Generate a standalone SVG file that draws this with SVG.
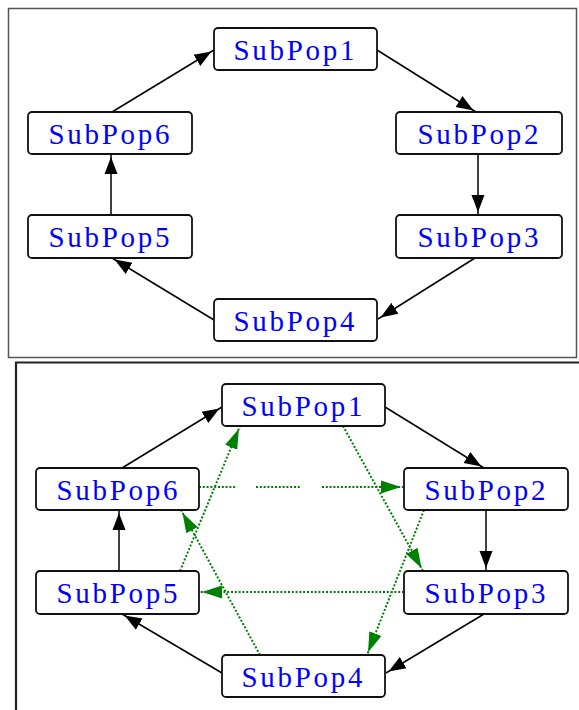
<svg xmlns="http://www.w3.org/2000/svg" width="579" height="710" viewBox="0 0 579 710">
  <style>
    .frame { fill: none; }
    .node rect { fill: #ffffff; stroke: #111111; stroke-width: 1.8; }
    .node text { font-family: "Liberation Serif", "DejaVu Serif", serif; font-size: 29px; fill: #0000ff; text-anchor: middle; }
    .edge { fill: none; stroke: #000000; stroke-width: 1.5; marker-end: url(#arrow); }
    .mig { fill: none; stroke: #008000; stroke-width: 2; stroke-dasharray: 2 1.8; marker-end: url(#arrowGreen); }
  </style>
  <defs>
    <marker id="arrow" markerUnits="userSpaceOnUse" markerWidth="22" markerHeight="16" viewBox="0 0 22 16" refX="20" refY="8" orient="auto">
      <path d="M0,1.5 L17,8 L0,14.5 z" fill="#000000"/>
    </marker>
    <marker id="arrowGreen" markerUnits="userSpaceOnUse" markerWidth="24" markerHeight="16" viewBox="0 0 24 16" refX="23" refY="8" orient="auto">
      <path d="M0,1.5 L20,8 L0,14.5 z" fill="#008000"/>
    </marker>
  </defs>

  <!-- panel frames -->
  <rect class="frame" x="8.5" y="8.5" width="568" height="349" stroke="#555555" stroke-width="1.5"/>
  <path class="frame" d="M16,710 V362.5 H579" stroke="#222222" stroke-width="2.2"/>

  <!-- ring topology, upper panel -->
  <g id="connectors-ring">
    <path class="edge" d="M377,50 L476,112"/>
    <path class="edge" d="M478,154 L478,215"/>
    <path class="edge" d="M475,258 L378,319"/>
    <path class="edge" d="M214,320 L112,258"/>
    <path class="edge" d="M111,215 L111,154"/>
    <path class="edge" d="M112,112 L214,50"/>
  </g>

  <g id="ring-subpop1" class="node"><rect x="214" y="28" width="163" height="42" rx="4"/><text x="294" y="60" textLength="121" lengthAdjust="spacing">SubPop1</text></g>
  <g id="ring-subpop2" class="node"><rect x="396" y="112" width="166" height="42" rx="4"/><text x="478" y="144" textLength="121" lengthAdjust="spacing">SubPop2</text></g>
  <g id="ring-subpop3" class="node"><rect x="396" y="215" width="166" height="43" rx="4"/><text x="478" y="247" textLength="121" lengthAdjust="spacing">SubPop3</text></g>
  <g id="ring-subpop4" class="node"><rect x="214" y="299" width="163" height="42" rx="4"/><text x="294" y="331" textLength="121" lengthAdjust="spacing">SubPop4</text></g>
  <g id="ring-subpop5" class="node"><rect x="28" y="215" width="164" height="43" rx="4"/><text x="109" y="247" textLength="121" lengthAdjust="spacing">SubPop5</text></g>
  <g id="ring-subpop6" class="node"><rect x="28" y="112" width="164" height="42" rx="4"/><text x="109" y="144" textLength="121" lengthAdjust="spacing">SubPop6</text></g>

  <!-- ring plus migration links, lower panel -->
  <g id="connectors-migration">
    <path class="edge" d="M385,407 L484,468"/>
    <path class="edge" d="M486,510 L486,571"/>
    <path class="edge" d="M484,614 L386,673"/>
    <path class="edge" d="M222,673 L122,614"/>
    <path class="edge" d="M119,571 L119,510"/>
    <path class="edge" d="M122,468 L222,407"/>

    <path class="mig" d="M180,571 L240,426"/>
    <path class="mig" d="M260,655 L181,510"/>
    <path class="mig" d="M343,426 L423,571"/>
    <path class="mig" d="M424,510 L367,655"/>
    <path class="mig" d="M199,487 H236 M256,487 H300 M322,487 H404"/>
    <path class="mig" d="M404,592 H199"/>
  </g>

  <g id="mig-subpop1" class="node"><rect x="222" y="384" width="163" height="42" rx="4"/><text x="302" y="416" textLength="121" lengthAdjust="spacing">SubPop1</text></g>
  <g id="mig-subpop2" class="node"><rect x="404" y="468" width="164" height="42" rx="4"/><text x="485" y="500" textLength="121" lengthAdjust="spacing">SubPop2</text></g>
  <g id="mig-subpop3" class="node"><rect x="404" y="571" width="164" height="43" rx="4"/><text x="485" y="603" textLength="121" lengthAdjust="spacing">SubPop3</text></g>
  <g id="mig-subpop4" class="node"><rect x="222" y="655" width="163" height="42" rx="4"/><text x="302" y="687" textLength="121" lengthAdjust="spacing">SubPop4</text></g>
  <g id="mig-subpop5" class="node"><rect x="36" y="571" width="163" height="43" rx="4"/><text x="117" y="603" textLength="121" lengthAdjust="spacing">SubPop5</text></g>
  <g id="mig-subpop6" class="node"><rect x="36" y="468" width="163" height="42" rx="4"/><text x="117" y="500" textLength="121" lengthAdjust="spacing">SubPop6</text></g>
</svg>
